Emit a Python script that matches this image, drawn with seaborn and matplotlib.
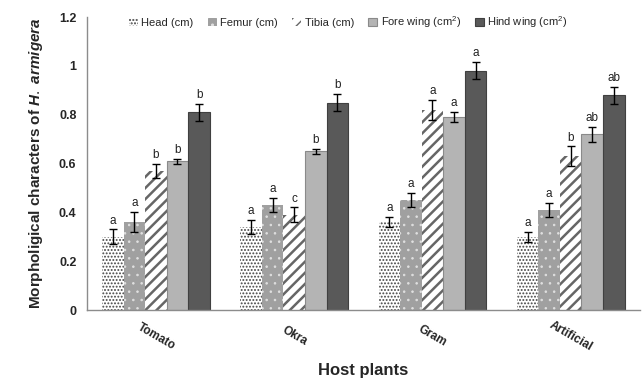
import pandas as pd
import numpy as np
import matplotlib
matplotlib.use("Agg")
import matplotlib.pyplot as plt
import seaborn as sns
from matplotlib.patches import Patch
from matplotlib.ticker import FuncFormatter, FixedLocator

# data
hosts = ["Tomato", "Okra", "Gram", "Artificial"]
traits = ["Head (cm)", "Femur (cm)", "Tibia (cm)", "Fore wing (cm$^2$)", "Hind wing (cm$^2$)"]
head = [0.30, 0.34, 0.36, 0.30]
femur = [0.36, 0.43, 0.45, 0.41]
tibia = [0.57, 0.39, 0.82, 0.63]
fore_wing = [0.61, 0.65, 0.79, 0.72]
hind_wing = [0.81, 0.85, 0.98, 0.88]
head_se = [0.03, 0.03, 0.02, 0.02]
femur_se = [0.04, 0.03, 0.03, 0.03]
tibia_se = [0.03, 0.03, 0.04, 0.04]
fore_se = [0.01, 0.01, 0.02, 0.03]
hind_se = [0.035, 0.035, 0.035, 0.035]
head_let = ["a", "a", "a", "a"]
femur_let = ["a", "a", "a", "a"]
tibia_let = ["b", "c", "a", "b"]
fore_let = ["b", "b", "a", "ab"]
hind_let = ["b", "b", "a", "ab"]

values = [head, femur, tibia, fore_wing, hind_wing]
errors = [head_se, femur_se, tibia_se, fore_se, hind_se]
letters = [head_let, femur_let, tibia_let, fore_let, hind_let]

rows = []
for t, vals in zip(traits, values):
    for h, v in zip(hosts, vals):
        rows.append({"host": h, "trait": t, "value": v})
df = pd.DataFrame(rows)

# bar styles: face, hatch, hatch colour, hatch width
faces = ["white", "#a0a0a0", "white", "#b4b4b4", "#595959"]
hatches = [".....", "..", "///", "", ""]
hatch_cols = ["#444444", "#e0e0e0", "#666666", "#8a8a8a", "#404040"]
hatch_lw = [0.9, 0.6, 1.8, 1.0, 1.0]

sns.set_style("white")
plt.rcParams["font.family"] = ["Liberation Sans", "DejaVu Sans"]
plt.rcParams["mathtext.fontset"] = "custom"
plt.rcParams["mathtext.it"] = "Liberation Sans:italic:bold"
plt.rcParams["mathtext.rm"] = "Liberation Sans"

fig = plt.figure(figsize=(6.43, 3.79), dpi=100)
ax = fig.add_axes([0.135, 0.182, 0.86, 0.773])

sns.barplot(data=df, x="host", y="value", hue="trait", order=hosts, hue_order=traits,
            palette=faces, width=0.78, errorbar=None, legend=False, ax=ax)


def style_patch(p, i):
    p.set_facecolor(faces[i])
    p.set_edgecolor(hatch_cols[i])
    if hatches[i]:
        p.set_hatch(hatches[i])
        p.set_linewidth(0)
        if hasattr(p, "set_hatch_linewidth"):
            p.set_hatch_linewidth(hatch_lw[i])
        else:
            p._hatch_linewidth = hatch_lw[i]
    else:
        p.set_linewidth(0.8)


bar_groups = list(ax.containers)
for i, cont in enumerate(bar_groups):
    for j, bar in enumerate(cont.patches):
        style_patch(bar, i)
        xc = bar.get_x() + bar.get_width() / 2
        top = bar.get_height()
        ax.errorbar(xc, top, yerr=errors[i][j], fmt="none", ecolor="black",
                    elinewidth=1, capsize=3, capthick=1)
        ax.text(xc, top + errors[i][j] + 0.012, letters[i][j], ha="center", va="bottom",
                fontsize=8.5, color="#222222")

ax.set_ylim(0, 1.2)
ax.set_xlim(-0.5, 3.5)
ax.set_yticks(np.arange(0, 1.21, 0.2))
ax.yaxis.set_major_formatter(FuncFormatter(lambda v, p: f"{v:.1f}".rstrip("0").rstrip(".")))
ax.set_xticks(range(len(hosts)))
ax.set_xticklabels(hosts, rotation=-30, ha="center", va="center", rotation_mode="anchor",
                   fontweight="bold", fontsize=8.5)
ax.tick_params(axis="x", length=0, pad=19)
ax.xaxis.set_minor_locator(FixedLocator([0.5, 1.5, 2.5, 3.5]))
ax.tick_params(axis="x", which="minor", length=3, color="#888888", direction="out")
ax.tick_params(axis="y", length=4, color="#888888", direction="out", labelsize=9)
for lab in ax.get_yticklabels():
    lab.set_fontweight("bold")

for s in ["top", "right"]:
    ax.spines[s].set_visible(False)
for s in ["left", "bottom"]:
    ax.spines[s].set_color("#8c8c8c")
    ax.spines[s].set_linewidth(1)

ax.set_xlabel("Host plants", fontsize=12, fontweight="bold")
ax.xaxis.label.set_va("center")
ax.xaxis.set_label_coords(0.5, -0.205)
ax.set_ylabel(r"Morpholigical characters of $\it{H.\ armigera}$", fontsize=11,
              fontweight="bold", labelpad=10)

handles = []
for i in range(len(traits)):
    h = Patch()
    style_patch(h, i)
    handles.append(h)
ax.legend(handles, traits, loc="upper center", bbox_to_anchor=(0.473, 1.045), ncol=5,
          frameon=False, fontsize=8, handlelength=0.8, handleheight=0.8,
          handletextpad=0.3, columnspacing=1.3)

fig.savefig("out.png", dpi=100)
